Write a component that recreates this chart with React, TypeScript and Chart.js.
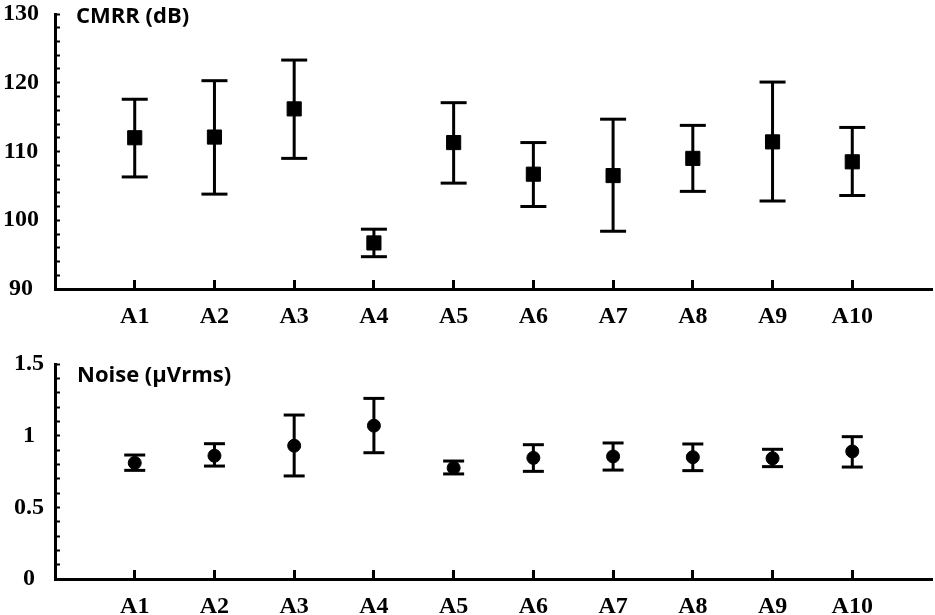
import React, { useEffect, useRef } from "react";
import { Chart, registerables } from "chart.js";

Chart.register(...registerables);

// ---- Data ----
const categories = ["A1", "A2", "A3", "A4", "A5", "A6", "A7", "A8", "A9", "A10"];

const cmrrMean = [112.0, 112.1, 116.2, 96.7, 111.3, 106.7, 106.5, 109.0, 111.4, 108.5];
const cmrrUpper = [117.6, 120.3, 123.3, 98.7, 117.1, 111.3, 114.7, 113.8, 120.1, 113.5];
const cmrrLower = [106.3, 103.8, 109.0, 94.7, 105.4, 102.0, 98.4, 104.2, 102.8, 103.6];

const noiseMean = [0.81, 0.86, 0.93, 1.07, 0.775, 0.845, 0.855, 0.85, 0.842, 0.89];
const noiseUpper = [0.865, 0.944, 1.144, 1.26, 0.823, 0.937, 0.949, 0.942, 0.905, 0.993];
const noiseLower = [0.758, 0.788, 0.719, 0.881, 0.733, 0.751, 0.76, 0.756, 0.784, 0.781];

const cmrrTickLabels = [90, 100, 110, 120, 130];
const noiseTickLabels = [0, 0.5, 1, 1.5];

const cmrrTitle = "CMRR (dB)";
const noiseTitle = "Noise (\u00b5Vrms)";

// ---- Chart factory ----
type PanelSpec = {
  mean: number[];
  upper: number[];
  lower: number[];
  yMin: number;
  yMax: number;
  yStep: number;
  labeled: number[];
  title: string;
  titleX: number;
  titleY: number;
  padTop: number;
  xAxisHeight: number;
  markerStyle: "rect" | "circle";
  markerRadius: number;
  capRadius: number;
  yLabelPadding: number;
};

function zeroPad(scale: any) {
  scale.paddingTop = 0;
  scale.paddingBottom = 0;
  scale.paddingLeft = 0;
  scale.paddingRight = 0;
}

function buildChart(canvas: HTMLCanvasElement, s: PanelSpec) {
  const meanPts = categories.map((_, i) => ({ x: i + 1, y: s.mean[i] }));
  const capPts: { x: number; y: number }[] = [];
  const barPts: { x: number; y: number | null }[] = [];
  categories.forEach((_, i) => {
    capPts.push({ x: i + 1, y: s.upper[i] });
    capPts.push({ x: i + 1, y: s.lower[i] });
    barPts.push({ x: i + 1, y: s.lower[i] });
    barPts.push({ x: i + 1, y: s.upper[i] });
    barPts.push({ x: i + 1, y: null });
  });

  const titlePlugin = {
    id: "panelTitle",
    afterDraw(chart: any) {
      const ctx = chart.ctx;
      ctx.save();
      ctx.font = 'bold 22px "Open Sans"';
      ctx.fillStyle = "#000";
      ctx.textAlign = "left";
      ctx.textBaseline = "alphabetic";
      ctx.fillText(s.title, s.titleX, s.titleY);
      ctx.restore();
    },
  };

  const tickFont = { family: '"Liberation Serif", "Times New Roman", serif', size: 24, weight: "bold" as const };

  return new Chart(canvas, {
    type: "scatter",
    data: {
      datasets: [
        {
          data: meanPts,
          pointStyle: s.markerStyle,
          pointRadius: s.markerRadius,
          pointBorderWidth: 1,
          pointBackgroundColor: "#000",
          pointBorderColor: "#000",
          showLine: false,
        },
        {
          data: capPts,
          pointStyle: "line",
          pointRadius: s.capRadius,
          pointBorderWidth: 3,
          pointBorderColor: "#000",
          pointBackgroundColor: "#000",
          showLine: false,
        },
        {
          data: barPts as any,
          showLine: true,
          spanGaps: false,
          borderColor: "#000",
          borderWidth: 3,
          pointRadius: 0,
        },
      ],
    },
    options: {
      animation: false,
      responsive: true,
      maintainAspectRatio: false,
      events: [],
      layout: { autoPadding: false, padding: { top: s.padTop, right: 3, left: 0, bottom: 0 } },
      plugins: {
        legend: { display: false },
        tooltip: { enabled: false },
        title: { display: false },
      },
      scales: {
        x: {
          type: "linear",
          min: 0,
          max: categories.length + 1,
          afterBuildTicks: (scale: any) => {
            scale.ticks = categories.map((_, i) => ({ value: i + 1 }));
          },
          afterFit: (scale: any) => {
            scale.height = s.xAxisHeight;
            zeroPad(scale);
          },
          border: { display: true, color: "#000", width: 3 },
          grid: {
            drawOnChartArea: false,
            drawTicks: true,
            tickLength: -9,
            tickWidth: 3,
            tickColor: "#000",
          },
          ticks: {
            color: "#000",
            font: tickFont,
            padding: 22,
            maxRotation: 0,
            autoSkip: false,
            callback: (v: any) => categories[Number(v) - 1] ?? "",
          },
        },
        y: {
          type: "linear",
          min: s.yMin,
          max: s.yMax,
          afterFit: (scale: any) => {
            scale.width = 55;
            zeroPad(scale);
          },
          border: { display: true, color: "#000", width: 3 },
          grid: {
            drawOnChartArea: false,
            drawTicks: true,
            tickLength: -5,
            tickWidth: 2,
            tickColor: "#000",
          },
          ticks: {
            stepSize: s.yStep,
            color: "#000",
            font: tickFont,
            padding: s.yLabelPadding,
            crossAlign: "center",
            autoSkip: false,
            callback: (v: any) => {
              const n = Number(v);
              const hit = s.labeled.find((l) => Math.abs(l - n) < 1e-6);
              return hit === undefined ? "" : String(hit);
            },
          },
        },
      },
    },
    plugins: [titlePlugin],
  } as any);
}

function Panel({ spec, top, height }: { spec: PanelSpec; top: number; height: number }) {
  const ref = useRef<HTMLCanvasElement | null>(null);
  useEffect(() => {
    if (!ref.current) return;
    const chart = buildChart(ref.current, spec);
    return () => chart.destroy();
  }, [spec]);
  return (
    <div style={{ position: "absolute", left: 0, top, width: 935, height }}>
      <canvas ref={ref} />
    </div>
  );
}

const topSpec: PanelSpec = {
  mean: cmrrMean,
  upper: cmrrUpper,
  lower: cmrrLower,
  yMin: 90,
  yMax: 130,
  yStep: 2,
  labeled: cmrrTickLabels,
  title: cmrrTitle,
  titleX: 76,
  titleY: 23,
  padTop: 14,
  xAxisHeight: 46,
  markerStyle: "rect",
  markerRadius: 10,
  capRadius: 13,
  yLabelPadding: 21,
};

const bottomSpec: PanelSpec = {
  mean: noiseMean,
  upper: noiseUpper,
  lower: noiseLower,
  yMin: 0,
  yMax: 1.5,
  yStep: 0.1,
  labeled: noiseTickLabels,
  title: noiseTitle,
  titleX: 77,
  titleY: 47,
  padTop: 29,
  xAxisHeight: 36,
  markerStyle: "circle",
  markerRadius: 6.5,
  capRadius: 10.5,
  yLabelPadding: 16,
};

export default function App() {
  return (
    <div style={{ position: "fixed", left: 0, top: 0, width: 935, height: 615, background: "#fff", overflow: "hidden" }}>
      <Panel spec={topSpec} top={0} height={335} />
      <Panel spec={bottomSpec} top={335} height={280} />
    </div>
  );
}
